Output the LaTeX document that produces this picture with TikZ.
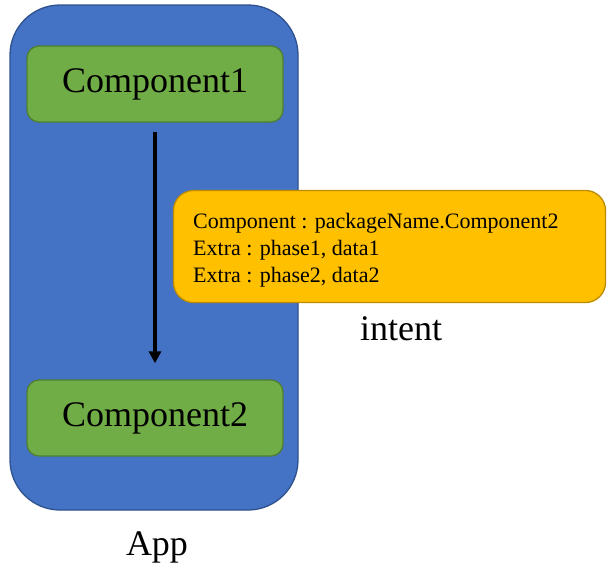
\documentclass[tikz,border=0pt]{standalone}
\usepackage{fontspec}
\setmainfont{Liberation Serif}
\usetikzlibrary{arrows.meta}
\definecolor{appblue}{HTML}{4472C4}
\definecolor{appedge}{HTML}{2F528F}
\definecolor{compgreen}{HTML}{70AD47}
\definecolor{compedge}{HTML}{507E32}
\definecolor{intentfill}{HTML}{FFC000}
\definecolor{intentedge}{HTML}{BC8C00}
\tikzset{
  appbox/.style={draw=appedge, fill=appblue, line width=1.3pt, rounded corners=50pt,
    minimum width=288pt, minimum height=505pt, inner sep=0pt},
  compbox/.style={draw=compedge, fill=compgreen, line width=1.3pt, rounded corners=12pt,
    minimum width=256pt, minimum height=76pt, inner sep=0pt,
    font=\fontsize{36}{43}\selectfont},
  intentbox/.style={draw=intentedge, fill=intentfill, line width=1.3pt, rounded corners=20pt,
    minimum width=432pt, minimum height=112pt, inner sep=0pt},
  intentline/.style={anchor=base west, inner sep=0pt, font=\fontsize{22}{27}\selectfont},
  caption/.style={anchor=base, inner sep=0pt, font=\fontsize{36}{43}\selectfont},
  flow/.style={-{Triangle[length=12pt,width=12pt]}, line width=3.6pt}
}
\begin{document}
\begin{tikzpicture}[x=1pt,y=-1pt]
  \useasboundingbox (0,0) rectangle (607,566);
  % application container
  \node[appbox] (app) at (154,257.5) {};
  % components
  \node[compbox] (c1) at (155,84) {Component1};
  \node[compbox] (c2) at (155,418) {Component2};
  % call from Component1 to Component2
  \draw[flow, shorten <=9pt, shorten >=16pt] (c1) -- (c2);
  % intent payload
  \node[intentbox] (intent) at (389.5,246.5) {};
  \node[intentline] (l1) at (193,228) {Component : packageName.Component2};
  \node[intentline] (l2) at (193,255) {Extra : phase1, data1};
  \node[intentline] (l3) at (193,282) {Extra : phase2, data2};
  % captions
  \node[caption] (intentlabel) at (401,340) {intent};
  \node[caption] (applabel) at (157,555) {App};
\end{tikzpicture}
\end{document}
